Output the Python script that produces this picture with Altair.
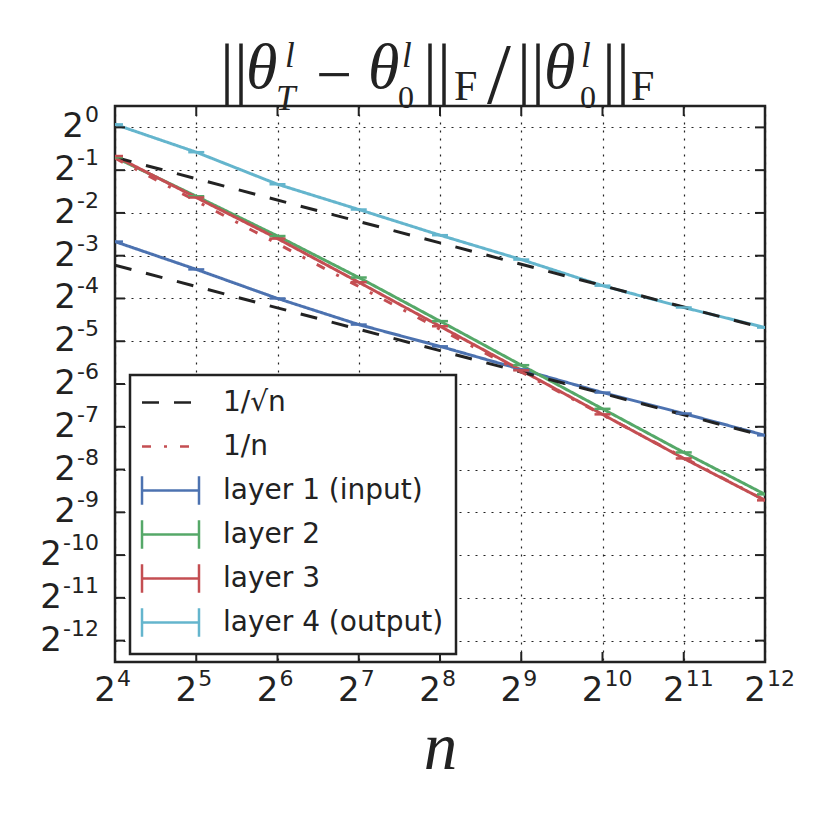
import altair as alt
import pandas as pd

# ---------------- data ----------------
n_values = [16, 32, 64, 128, 256, 512, 1024, 2048, 4096]
layer1 = [0.1571, 0.1001, 0.0625, 0.04094, 0.02876, 0.01978, 0.01360, 0.009685, 0.006801]
layer2 = [0.6156, 0.3276, 0.1719, 0.08778, 0.04328, 0.02120, 0.01045, 0.005155, 0.002613]
layer3 = [0.6285, 0.3209, 0.1649, 0.08133, 0.03983, 0.01950, 0.009552, 0.004677, 0.002371]
layer4 = [1.0497, 0.669, 0.3978, 0.2642, 0.1743, 0.1174, 0.0769, 0.0540, 0.0390]

ref_n = [16, 4096]
sqrt_upper = [0.6156, 0.03847]
sqrt_lower = [0.1073, 0.006708]
inv_n = [0.6071, 0.002371]

series_names = ["1/√n", "1/n", "layer 1 (input)", "layer 2", "layer 3", "layer 4 (output)"]
series_colors = ["#222222", "#C44E52", "#4C72B0", "#55A868", "#C44E52", "#64B5CD"]
series_dashes = [[17, 15], [9, 13, 3, 13], [1, 0], [1, 0], [1, 0], [1, 0]]
line_shape = "M-2,-1M2,1M-2,0L2,0"
errbar_shape = "M-2,-1L-2,1M-2,0L2,0M2,-1L2,1"
series_shapes = [line_shape, line_shape, errbar_shape, errbar_shape, errbar_shape, errbar_shape]

x_tick_values = n_values
x_tick_exponents = ["4", "5", "6", "7", "8", "9", "10", "11", "12"]
y_tick_values = [1, 0.5, 0.25, 0.125, 0.0625, 0.03125, 0.015625, 0.0078125,
                 0.00390625, 0.001953125, 0.0009765625, 0.00048828125, 0.000244140625]
y_tick_exponents = ["0", "-1", "-2", "-3", "-4", "-5", "-6", "-7",
                    "-8", "-9", "-10", "-11", "-12"]

# ---------------- tables ----------------
rows = []
for name, vals in zip(series_names[2:], [layer1, layer2, layer3, layer4]):
    for n, v in zip(n_values, vals):
        rows.append({"n": n, "v": v, "series": name, "line": name})
layers_df = pd.DataFrame(rows)

ref_rows = []
for name, line_id, vals in [("1/√n", "sqrt_upper", sqrt_upper),
                            ("1/√n", "sqrt_lower", sqrt_lower),
                            ("1/n", "inv", inv_n)]:
    for n, v in zip(ref_n, vals):
        ref_rows.append({"n": n, "v": v, "series": name, "line": line_id})
ref_df = pd.DataFrame(ref_rows)

xt_df = pd.DataFrame({"n": x_tick_values, "e": x_tick_exponents})
yt_df = pd.DataFrame({"v": y_tick_values, "e": y_tick_exponents})
yt_df["len"] = yt_df["e"].str.len()

W, H = 650, 556
INK = "#222222"

xscale = alt.Scale(type="log", base=2, domain=[16, 4096], nice=False)
yscale = alt.Scale(type="log", base=2, domain=[2 ** -12.5, 2 ** 0.5], nice=False)
cscale = alt.Scale(domain=series_names, range=series_colors)
dscale = alt.Scale(domain=series_names, range=series_dashes)
sscale = alt.Scale(domain=series_names, range=series_shapes)

grid_kw = dict(grid=True, gridColor=INK, gridDash=[2, 6], gridWidth=1.2, gridOpacity=1,
               ticks=False, domain=False, labels=False)

x_axis = alt.Axis(values=x_tick_values, title="n", titleFont="Liberation Serif",
                  titleFontStyle="italic", titleFontSize=67, titleFontWeight="normal",
                  titleColor=INK, titlePadding=53, **grid_kw)
y_axis = alt.Axis(values=y_tick_values, title=None, **grid_kw)

legend = alt.Legend(title=None, orient="none", legendX=15, legendY=269,
                    symbolSize=812, symbolStrokeWidth=2.5, symbolOffset=13,
                    labelOffset=37, labelFont="DejaVu Sans", labelFontSize=28,
                    labelColor=INK, labelLimit=400, fillColor="white", strokeColor=INK,
                    padding=12, rowPadding=5)

X = alt.X("n:Q", scale=xscale, axis=x_axis)
Y = alt.Y("v:Q", scale=yscale, axis=y_axis)
C = alt.Color("series:N", scale=cscale, legend=legend)
D = alt.StrokeDash("series:N", scale=dscale, legend=legend)

# layer lines (solid)
layer_lines = alt.Chart(layers_df).mark_line(strokeWidth=3, clip=True).encode(
    x=X, y=Y, color=C, strokeDash=D, detail="line:N")

# error-bar caps
caps = alt.Chart(layers_df).mark_point(shape="M-1,0L1,0", size=256, strokeWidth=2.5,
                                       filled=False, opacity=1, clip=True).encode(
    x=X, y=Y, color=C)

# reference lines (dashed)
ref_lines = alt.Chart(ref_df).mark_line(strokeWidth=3, clip=True).encode(
    x=X, y=Y, color=C, strokeDash=D, detail="line:N")

# invisible layer that carries the legend symbol shapes
legend_shapes = alt.Chart(layers_df).transform_filter("false").mark_point(
    filled=False, opacity=1, strokeWidth=2.5).encode(
    x=X, y=Y, color=C, shape=alt.Shape("series:N", scale=sscale, legend=legend))

# inward ticks on all four sides
TL = 10
tick_kw = dict(color=INK, strokeWidth=2)
ticks_bottom = alt.Chart(xt_df).mark_rule(**tick_kw).encode(
    x=X, y=alt.value(H), y2=alt.value(H - TL))
ticks_top = alt.Chart(xt_df).mark_rule(**tick_kw).encode(
    x=X, y=alt.value(0), y2=alt.value(TL))
ticks_left = alt.Chart(yt_df).mark_rule(**tick_kw).encode(
    y=Y, x=alt.value(0), x2=alt.value(TL))
ticks_right = alt.Chart(yt_df).mark_rule(**tick_kw).encode(
    y=Y, x=alt.value(W), x2=alt.value(W - TL))

# tick labels  2^k  (base and raised exponent)
lab_kw = dict(font="DejaVu Sans", color=INK, baseline="alphabetic")
x_base = alt.Chart(xt_df).mark_text(text="2", fontSize=34, align="right", dx=1, **lab_kw).encode(
    x=X, y=alt.value(H + 39))
x_exp = alt.Chart(xt_df).mark_text(fontSize=22, align="left", dx=2, **lab_kw).encode(
    x=X, y=alt.value(H + 24), text="e:N")
y_exp = alt.Chart(yt_df).mark_text(fontSize=22, align="right", dy=-5, **lab_kw).encode(
    y=Y, x=alt.value(-16), text="e:N")
y_base_layers = []
for length, xpos in [(1, -31), (2, -39), (3, -53)]:
    y_base_layers.append(
        alt.Chart(yt_df).transform_filter(alt.datum.len == length).mark_text(
            text="2", fontSize=34, align="right", dy=10, **lab_kw).encode(
            y=Y, x=alt.value(xpos)))


# composed math title  ||θ_T^l − θ_0^l||_F / ||θ_0^l||_F
def piece(text, x, y, size, style="normal"):
    return alt.Chart(alt.Data(values=[{"k": 0}])).mark_text(
        text=text, font="Liberation Serif", fontSize=size, fontStyle=style,
        align="left", baseline="alphabetic", color=INK).encode(
        x=alt.value(x), y=alt.value(y))


title_pieces = [
    piece("||", 105, -14, 70),
    piece("θ", 131, -18, 64, "italic"),
    piece("l", 170, -39, 35, "italic"),
    piece("T", 161, 4, 35, "italic"),
    piece("−", 201, -10, 64),
    piece("θ", 253, -18, 64, "italic"),
    piece("l", 287, -39, 35, "italic"),
    piece("0", 283, 2, 32),
    piece("||", 308, -14, 70),
    piece("F", 339, -6, 42),
    piece("/", 372, -3, 86),
    piece("||", 402, -14, 70),
    piece("θ", 429, -18, 64, "italic"),
    piece("l", 466, -39, 35, "italic"),
    piece("0", 465, 2, 32),
    piece("||", 487, -14, 70),
    piece("F", 516, -6, 42),
]

chart = alt.layer(
    layer_lines, ref_lines, caps, legend_shapes,
    ticks_bottom, ticks_top, ticks_left, ticks_right,
    x_base, x_exp, y_exp, *y_base_layers,
    *title_pieces,
).properties(
    width=W, height=H,
    autosize=alt.AutoSizeParams(type="none"),
    padding={"left": 107, "top": 98, "right": 57, "bottom": 160},
).configure_view(
    stroke=INK, strokeWidth=2.5
).configure_legend(
    strokeWidth=2.5
)

chart.save("out.html", embed_options={"renderer": "svg", "actions": False})
